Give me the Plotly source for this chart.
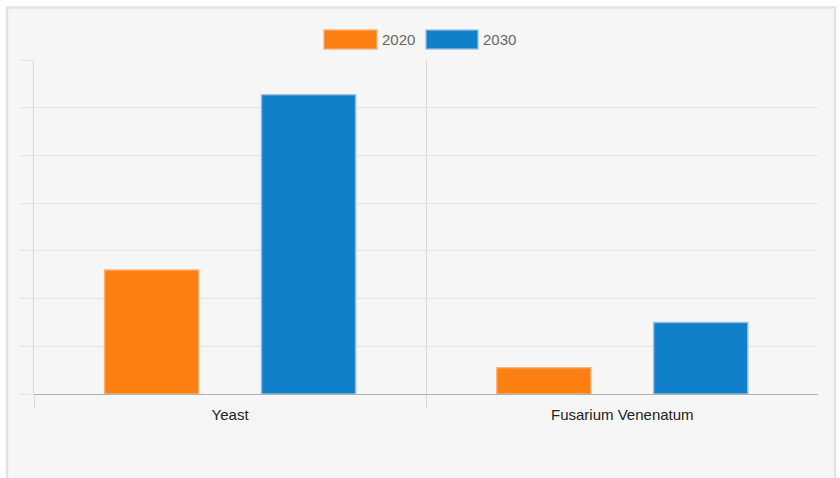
import plotly.graph_objects as go

categories = ["Yeast", "Fusarium Venenatum"]
series_names = ["2020", "2030"]
values_2020 = [2.60, 0.55]
values_2030 = [6.27, 1.50]
series_colors = ["#fd7f12", "#0f80c9"]
border_colors = ["rgba(245,175,120,0.9)", "rgba(150,190,225,0.9)"]

W, H = 840, 478
ML, MR, MT, MB = 34, 22, 60, 84
PW = W - ML - MR
PH = H - MT - MB


def px_x(px):
    return (px - ML) / PW


def px_y(py):
    return (H - MB - py) / PH


fig = go.Figure()
for name, vals, col, bcol in zip(series_names, [values_2020, values_2030], series_colors, border_colors):
    fig.add_trace(go.Bar(
        name=name, x=categories, y=vals,
        marker=dict(color=col, line=dict(color=bcol, width=1.5)),
        showlegend=False, hoverinfo="x+y",
    ))

shapes = [
    dict(type="rect", xref="paper", yref="paper", layer="below",
         x0=px_x(7), x1=px_x(835), y0=px_y(490), y1=px_y(7.5),
         fillcolor="#f6f6f6", line=dict(color="#e2e2e2", width=2.5)),
]
annotations = []
legend_boxes = [(324, 377), (426, 478)]
for (x0, x1), col, bcol, name in zip(legend_boxes, series_colors, border_colors, series_names):
    shapes.append(dict(type="rect", xref="paper", yref="paper",
                       x0=px_x(x0), x1=px_x(x1), y0=px_y(49), y1=px_y(30),
                       fillcolor=col, line=dict(color=bcol, width=1.5)))
    annotations.append(dict(xref="paper", yref="paper", x=px_x(x1 + 3), y=px_y(39.5),
                            text=name, showarrow=False, xanchor="left", yanchor="middle",
                            font=dict(family="Liberation Sans, Arial", size=15, color="#666666")))

fig.update_layout(
    width=W, height=H,
    margin=dict(l=ML, r=MR, t=MT, b=MB),
    paper_bgcolor="white",
    plot_bgcolor="rgba(0,0,0,0)",
    barmode="group", bargap=0.2, bargroupgap=0.4,
    shapes=shapes, annotations=annotations,
    showlegend=False,
    font=dict(family="Liberation Sans, Arial", size=15, color="#333333"),
)
fig.update_xaxes(
    type="category", range=[-0.5, 1.499], tickson="boundaries",
    showgrid=True, gridcolor="#d9d9d9", gridwidth=1,
    ticks="outside", ticklen=13, tickcolor="#d9d9d9", tickwidth=1,
    ticklabelstandoff=10,
    showline=False, zeroline=False,
    tickfont=dict(family="Liberation Sans, Arial", size=15, color="#222222"),
)
fig.update_yaxes(
    range=[0, 7], dtick=1, tick0=0,
    showgrid=True, gridcolor="#e4e4e4", gridwidth=1,
    ticks="outside", ticklen=13, tickcolor="#e4e4e4",
    showticklabels=False,
    zeroline=True, zerolinecolor="#b0b0b0", zerolinewidth=1.2,
    showline=True, linecolor="#d9d9d9", linewidth=1,
)
fig.write_html("out.html", config={"displayModeBar": False},
               post_script="document.body.style.margin='0';document.body.style.overflow='hidden';")
